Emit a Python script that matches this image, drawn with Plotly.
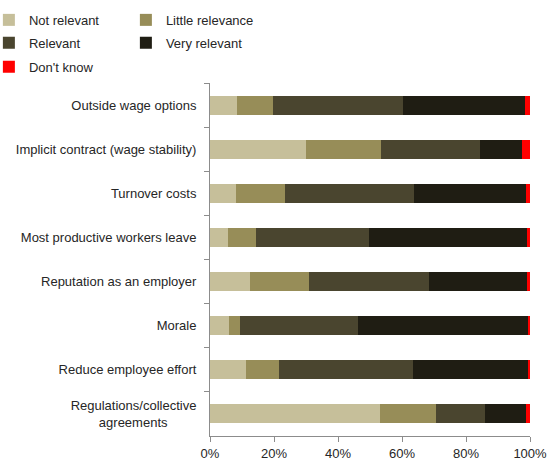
import plotly.graph_objects as go

# Reasons for wage rigidity: share of responses by relevance level (%)
categories = [
    "Outside wage options",
    "Implicit contract (wage stability)",
    "Turnover costs",
    "Most productive workers leave",
    "Reputation as an employer",
    "Morale",
    "Reduce employee effort",
    "Regulations/collective<br>agreements\u00a0\u00a0\u00a0\u00a0\u00a0\u00a0\u00a0\u00a0",
]

not_relevant = [8.4, 29.9, 8.1, 5.7, 12.5, 5.9, 11.4, 53.1]
little_relevance = [11.2, 23.4, 15.2, 8.8, 18.5, 3.5, 10.3, 17.5]
relevant = [40.7, 31.1, 40.3, 35.3, 37.4, 36.7, 41.6, 15.3]
very_relevant = [38.1, 13.2, 35.1, 49.2, 30.7, 53.4, 36.0, 12.7]
dont_know = [1.5, 2.4, 1.2, 0.9, 0.9, 0.4, 0.7, 1.5]

series = [
    ("Not relevant", not_relevant, "#C6BF9A", "legend"),
    ("Little relevance", little_relevance, "#978D58", "legend"),
    ("Relevant", relevant, "#4A452F", "legend2"),
    ("Very relevant", very_relevant, "#1F1D13", "legend2"),
    ("Don't know", dont_know, "#FF0000", "legend3"),
]

x_ticks = [0, 20, 40, 60, 80, 100]
x_tick_text = [f"{v}%" for v in x_ticks]

FONT = "Liberation Sans, Arial, sans-serif"
FS = 13
TEXT_COL = "#262626"
AXIS_GREY = "#8C8C8C"

fig = go.Figure()
for name, vals, color, lg in series:
    fig.add_trace(go.Bar(
        name=name, y=categories, x=vals, orientation="h",
        marker=dict(color=color, line=dict(width=0)),
        legend=lg,
    ))

legend_common = dict(
    orientation="h", xanchor="left", yanchor="middle",
    font=dict(family=FONT, size=FS, color=TEXT_COL),
    bgcolor="rgba(0,0,0,0)", entrywidth=92, itemwidth=30,
    traceorder="normal",
)

fig.update_layout(
    width=547, height=463,
    margin=dict(l=209.5, r=16.5, t=83, b=27, autoexpand=False),
    barmode="stack", bargap=0.57,
    plot_bgcolor="white", paper_bgcolor="white",
    font=dict(family=FONT, size=FS, color=TEXT_COL),
    legend=dict(x=-0.691, y=1.1787, **legend_common),
    legend2=dict(x=-0.691, y=1.114, **legend_common),
    legend3=dict(x=-0.691, y=1.0458, **legend_common),
    xaxis=dict(
        range=[0, 100], tickvals=x_ticks, ticktext=x_tick_text,
        showgrid=False, zeroline=False, automargin=False,
        ticklabeloverflow="allow",
        showline=True, linecolor=AXIS_GREY, linewidth=1,
        ticks="outside", ticklen=5, tickcolor=AXIS_GREY,
        tickfont=dict(family=FONT, size=FS, color=TEXT_COL),
    ),
    yaxis=dict(
        autorange="reversed", showgrid=False, zeroline=False, automargin=False,
        showline=True, linecolor=AXIS_GREY, linewidth=1,
        ticks="outside", ticklen=5, tickcolor=AXIS_GREY,
        tickson="boundaries", ticklabelstandoff=10,
        tickfont=dict(family=FONT, size=FS, color=TEXT_COL),
    ),
)

fig.write_html("out.html")
